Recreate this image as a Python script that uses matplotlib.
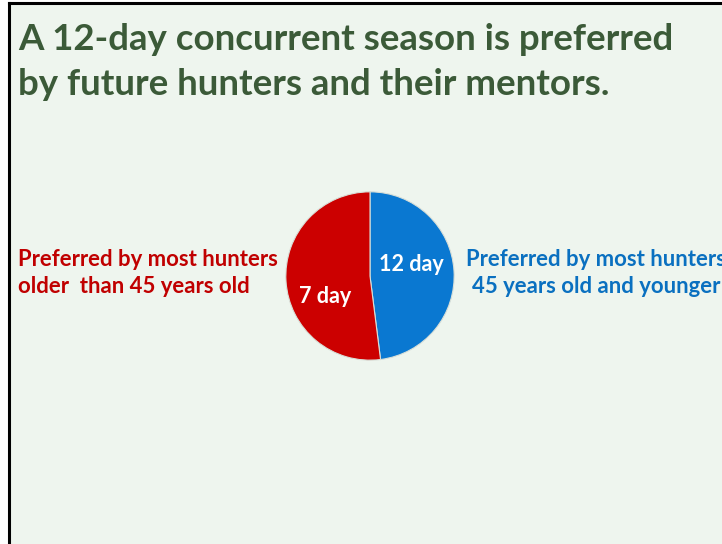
import matplotlib
matplotlib.use('Agg')
import matplotlib.pyplot as plt
from matplotlib.lines import Line2D

# data
slice_labels = ['12 day', '7 day']
slice_values = [48, 52]
slice_colors = ['#0a78d1', '#cc0000']
title_text = 'A 12-day concurrent season is preferred\nby future hunters and their mentors.'
left_note = 'Preferred by most hunters\nolder  than 45 years old'
right_note = 'Preferred by most hunters\n45 years old and younger'

plt.rcParams['font.family'] = ['Lato', 'DejaVu Sans']

W, H = 722, 544
fig = plt.figure(figsize=(W / 100, H / 100), dpi=100)
fig.patch.set_facecolor('white')

# panel background + frame
bg = plt.Rectangle((10 / W, 0), 1, 1 - 3 / H, transform=fig.transFigure,
                   facecolor='#eef5ee', edgecolor='none', zorder=-5)
fig.patches.append(bg)
fig.add_artist(Line2D([9 / W, 1], [1 - 2.5 / H] * 2, color='black', lw=2.2))
fig.add_artist(Line2D([9 / W, 9 / W], [0, 1 - 2.5 / H], color='black', lw=2.2))

fig.text(18 / W, 1 - 23 / H, title_text, ha='left', va='top',
         fontsize=26.4, fontweight='bold', color='#3b5a38', linespacing=1.45)

# pie
cx, cy, r = 370, 276, 85
ax = fig.add_axes([(cx - r) / W, (H - cy - r) / H, 2 * r / W, 2 * r / H])
ax.set_zorder(5)
ax.patch.set_alpha(0)
wedges, _ = ax.pie(slice_values, colors=slice_colors, startangle=90,
                   counterclock=False, radius=1,
                   wedgeprops=dict(edgecolor='#d8dfd8', linewidth=0.8))
ax.set_xlim(-1.01, 1.01)
ax.set_ylim(-1.01, 1.01)
ax.set_aspect('equal')
ax.axis('off')

ax.text(0.49, 0.14, slice_labels[0], ha='center', va='center',
        fontsize=15.5, fontweight='bold', color='white')
ax.text(-0.53, -0.24, slice_labels[1], ha='center', va='center',
        fontsize=15.5, fontweight='bold', color='white')

fig.text(18 / W, 1 - 273 / H, left_note, ha='left', va='center',
         fontsize=15.9, fontweight='bold', color='#c00000', linespacing=1.4)
fig.text(596 / W, 1 - 273 / H, right_note, ha='center', va='center',
         fontsize=15.9, fontweight='bold', color='#0a70c0', linespacing=1.4,
         multialignment='center')

plt.savefig('out.png', dpi=100, facecolor=fig.get_facecolor())
